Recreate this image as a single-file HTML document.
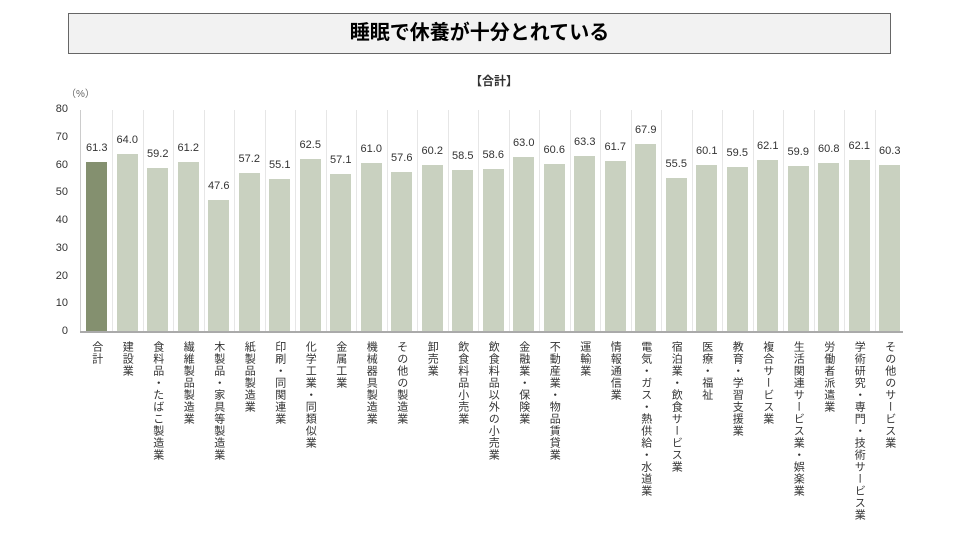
<!DOCTYPE html>
<html><head><meta charset="utf-8"><style>
body{margin:0;width:960px;height:540px;background:#fff;position:relative;overflow:hidden;font-family:"Liberation Sans","Noto Sans CJK JP",sans-serif;}
.title{position:absolute;left:68px;top:13px;width:821px;height:39px;border:1px solid #666;background:#f2f2f2;text-align:center;line-height:39px;font-size:20px;font-weight:bold;color:#000;}
.sub{position:absolute;left:470px;top:72px;font-size:12px;font-weight:bold;color:#333;}
.unit{position:absolute;left:66px;top:85px;font-size:10px;color:#666;}
.yl{position:absolute;width:20px;text-align:right;left:48px;font-size:11px;color:#333;}
.grid{position:absolute;top:110px;height:222px;width:1px;background:#e6e6e6;}
.bar{position:absolute;width:21px;background:#c9d1c0;}
.val{position:absolute;width:40px;text-align:center;font-size:11px;color:#333;}
.lab{position:absolute;top:341px;writing-mode:vertical-rl;font-size:11px;line-height:13px;color:#333;letter-spacing:1px;}
.axis{position:absolute;left:80px;top:331px;width:823px;height:2px;background:#aaa;}
.vax{position:absolute;left:80px;top:110px;width:1px;height:222px;background:#ccc;}
</style></head><body>
<div class="title">睡眠で休養が十分とれている</div>
<div class="sub">【合計】</div>
<div class="unit">（%）</div>
<div id="c"></div>
<div class="vax"></div>
<div class="axis"></div>
<script>
var d=[["合計",61.3],["建設業",64.0],["食料品・たばこ製造業",59.2],["繊維製品製造業",61.2],["木製品・家具等製造業",47.6],["紙製品製造業",57.2],["印刷・同関連業",55.1],["化学工業・同類似業",62.5],["金属工業",57.1],["機械器具製造業",61.0],["その他の製造業",57.6],["卸売業",60.2],["飲食料品小売業",58.5],["飲食料品以外の小売業",58.6],["金融業・保険業",63.0],["不動産業・物品賃貸業",60.6],["運輸業",63.3],["情報通信業",61.7],["電気・ガス・熱供給・水道業",67.9],["宿泊業・飲食サービス業",55.5],["医療・福祉",60.1],["教育・学習支援業",59.5],["複合サービス業",62.1],["生活関連サービス業・娯楽業",59.9],["労働者派遣業",60.8],["学術研究・専門・技術サービス業",62.1],["その他のサービス業",60.3]];
var h="",x0=81.5,w=30.5,b=332,s=2.775;
for(var k=0;k<=8;k++){h+='<div class="yl" style="top:'+(b-k*10*s-7)+'px">'+(k*10)+'</div>';}
for(var i=0;i<d.length;i++){var cx=x0+w*i+w/2,ht=d[i][1]*s;
if(i>0)h+='<div class="grid" style="left:'+Math.round(x0+w*i)+'px"></div>';
h+='<div class="bar" style="left:'+(cx-10.5)+'px;top:'+(b-ht)+'px;height:'+ht+'px;'+(i==0?'background:#84906f':'')+'"></div>';
h+='<div class="val" style="left:'+(cx-20)+'px;top:'+(b-ht-20)+'px">'+d[i][1].toFixed(1)+'</div>';
h+='<div class="lab" style="left:'+(cx-7)+'px">'+d[i][0]+'</div>';}
document.getElementById("c").innerHTML=h;
</script>
</body></html>
